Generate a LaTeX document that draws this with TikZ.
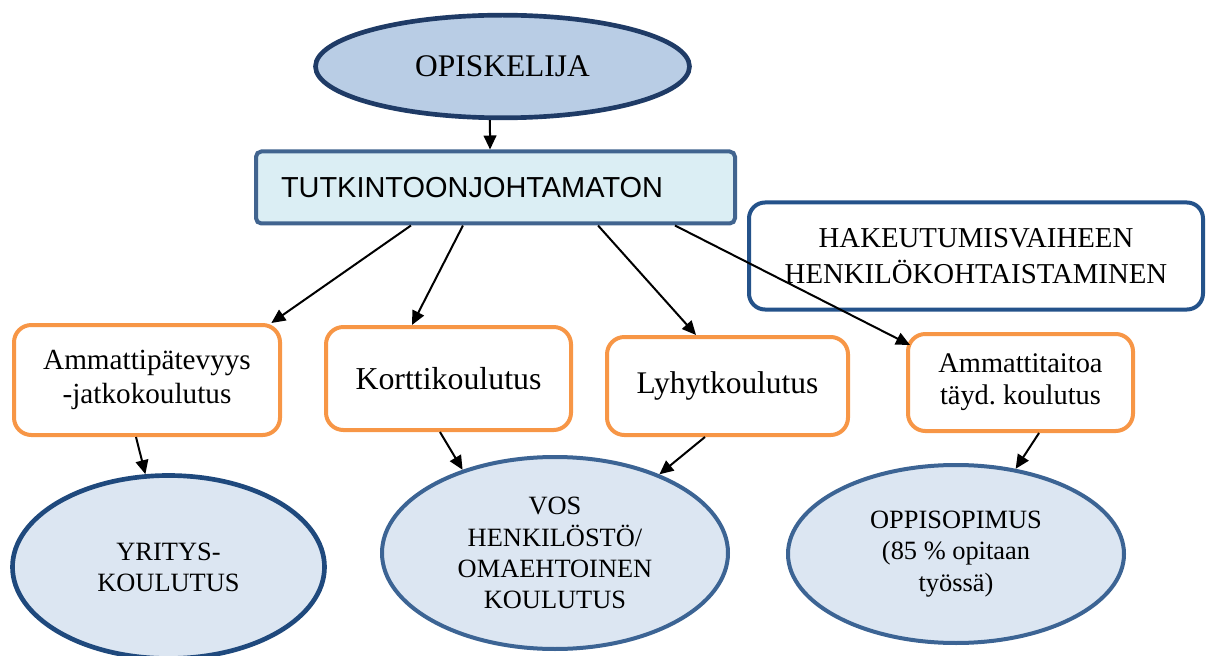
\documentclass[tikz,border=0pt]{standalone}
\usepackage{fontspec}
\setmainfont{Liberation Serif}
\newfontfamily\arialfont{Liberation Sans}
\usetikzlibrary{shapes.geometric,arrows.meta}
\frenchspacing

\definecolor{topborder}{HTML}{1F3B66}
\definecolor{topfill}{HTML}{B9CDE5}
\definecolor{barborder}{HTML}{41648F}
\definecolor{barfill}{HTML}{DBEEF4}
\definecolor{noteborder}{HTML}{24528A}
\definecolor{courseorange}{HTML}{F79646}
\definecolor{endfill}{HTML}{DCE6F2}
\definecolor{enddark}{HTML}{1F497D}
\definecolor{endmid}{HTML}{3C6494}

\tikzset{
  topoval/.style={ellipse, draw=topborder, fill=topfill, line width=3.5pt, inner sep=0pt},
  barbox/.style={rectangle, rounded corners=4pt, draw=barborder, fill=barfill, line width=3pt,
                 align=left, inner ysep=0pt},
  notebox/.style={rectangle, rounded corners=12pt, draw=noteborder, fill=white, line width=3pt,
                  align=center, inner sep=0pt},
  coursebox/.style={rectangle, rounded corners=13pt, draw=courseorange, fill=white, line width=3pt,
                    align=center, inner sep=0pt},
  endoval/.style={ellipse, fill=endfill, line width=3pt, align=center, inner sep=0pt,
                  font=\fontsize{19.8}{23.4}\selectfont},
  arr/.style={-{Triangle[length=10.5pt,width=9.5pt]}, line width=1.5pt, black},
}

\begin{document}
\begin{tikzpicture}[x=0.75pt,y=-0.75pt]
\useasboundingbox (0,0) rectangle (1211,656);

% top of the chart
\node[topoval, minimum width=280.5pt, minimum height=77pt,
      font=\fontsize{23.6}{28}\selectfont] (opi) at (502.5,66.5) {OPISKELIJA};
\node[barbox, minimum width=359.25pt, minimum height=54pt, text width=321.75pt,
      inner xsep=18.75pt, font=\arialfont\fontsize{21.7}{25}\selectfont] (tut) at (495.5,187.5)
      {TUTKINTOONJOHTAMATON};
\node[notebox, minimum width=340.5pt, minimum height=80.25pt,
      font=\fontsize{21.6}{26.5}\selectfont] (hak) at (976,256)
      {HAKEUTUMISVAIHEEN\\HENKILÖKOHTAISTAMINEN};

% course types
\node[coursebox, minimum width=199.5pt, minimum height=82.5pt,
      font=\fontsize{21.9}{25.5}\selectfont] (amm) at (147,380)
      {Ammattipätevyys\\-jatkokoulutus};
\node[coursebox, minimum width=183.75pt, minimum height=77.25pt,
      font=\fontsize{23.9}{28}\selectfont] (kor) at (448.5,378.5) {Korttikoulutus};
\node[coursebox, minimum width=180.75pt, minimum height=73.5pt,
      font=\fontsize{23.6}{28}\selectfont] (lyh) at (727.5,386) {Lyhytkoulutus};
\node[coursebox, minimum width=168.75pt, minimum height=72.75pt,
      font=\fontsize{21.3}{24}\selectfont] (tay) at (1020.5,382.5)
      {Ammattitaitoa\\täyd. koulutus};

% forms of training
\node[endoval, draw=enddark, line width=3.5pt, minimum width=234pt, minimum height=137.25pt]
      (yri) at (168.5,567) {YRITYS-\\KOULUTUS};
\node[endoval, draw=endmid, minimum width=259.5pt, minimum height=144pt]
      (vos) at (555,553) {VOS\\HENKILÖSTÖ/\\OMAEHTOINEN\\KOULUTUS};
\node[endoval, draw=endmid, minimum width=252pt, minimum height=133.5pt]
      (opp) at (956,554) {OPPISOPIMUS\\(85 \% opitaan\\työssä)};

% connectors
\draw[arr] ([xshift=-9.4pt]opi.south) -- ([xshift=-4.1pt]tut.north);
\draw[arr] ([xshift=-63.4pt]tut.south) -- ([xshift=-8pt]amm.north east);
\draw[arr] ([xshift=-24.4pt]tut.south) -- ([xshift=-27.4pt]kor.north);
\draw[arr] ([xshift=76.9pt]tut.south) -- ([xshift=-23.6pt]lyh.north);
\draw[arr] ([xshift=134.6pt]tut.south) -- ([xshift=3pt,yshift=-9.75pt]tay.north west);
\draw[arr] ([xshift=-8.25pt]amm.south) -- (yri.104);
\draw[arr] ([xshift=-6.4pt]kor.south) -- (vos.138);
\draw[arr] ([xshift=-16.9pt]lyh.south) -- (vos.37);
\draw[arr] ([xshift=13.9pt]tay.south) -- (opp.55);
\end{tikzpicture}
\end{document}
